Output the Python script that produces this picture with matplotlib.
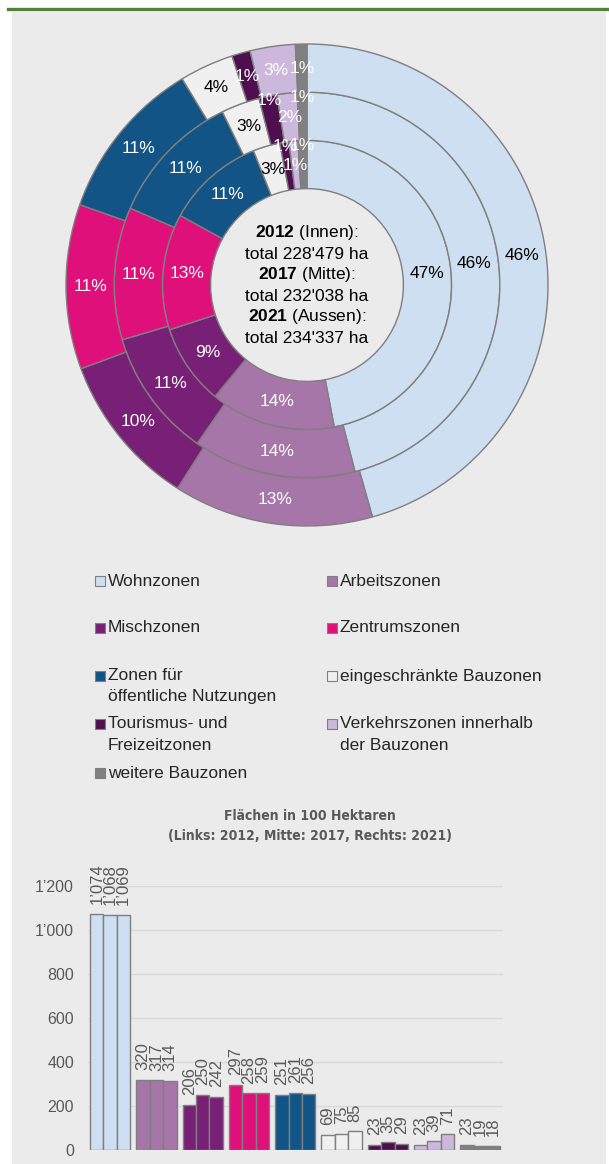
import numpy as np
import matplotlib
matplotlib.use("Agg")
import matplotlib.pyplot as plt
from matplotlib.patches import Rectangle
from matplotlib.lines import Line2D

plt.rcParams['font.family'] = ['Liberation Sans', 'DejaVu Sans']
plt.rcParams['mathtext.fontset'] = 'custom'
plt.rcParams['mathtext.rm'] = 'Liberation Sans'
plt.rcParams['mathtext.bf'] = 'Liberation Sans:bold'

zones = ["Wohnzonen", "Arbeitszonen", "Mischzonen", "Zentrumszonen",
         "Zonen für\nöffentliche Nutzungen", "eingeschränkte Bauzonen",
         "Tourismus- und\nFreizeitzonen", "Verkehrszonen innerhalb\nder Bauzonen",
         "weitere Bauzonen"]
colors = ["#cddff0", "#a676a8", "#772075", "#e0107a", "#115485",
          "#f0f0f0", "#4f0f4f", "#cbb8dc", "#808080"]
label_dark = [True, False, False, False, False, True, False, False, False]

# Flächen in 100 Hektaren
v2012 = [1074, 320, 206, 297, 251, 69, 23, 23, 23]
v2017 = [1068, 317, 250, 258, 261, 75, 35, 39, 19]
v2021 = [1069, 314, 242, 259, 256, 85, 29, 71, 18]

# percent labels as shown in the donut
p2012 = ["47%", "14%", "9%", "13%", "11%", "3%", "1%", "1%", "1%"]
p2017 = ["46%", "14%", "11%", "11%", "11%", "3%", "1%", "2%", "1%"]
p2021 = ["46%", "13%", "10%", "11%", "11%", "4%", "1%", "3%", "1%"]

totals = ["228'479", "232'038", "234'337"]
years = ["2012", "2017", "2021"]
ring_names = ["Innen", "Mitte", "Aussen"]

W, H = 609, 1164
fig = plt.figure(figsize=(W / 100, H / 100), dpi=100)
fig.patch.set_facecolor("white")

# background panel and top rule
fig.patches.append(Rectangle((12 / W, 0), 594 / W, 1 - 12 / H, transform=fig.transFigure,
                             facecolor="#ebebeb", edgecolor="none", zorder=-5))
fig.lines.append(Line2D([8 / W, 1], [1 - 8.8 / H, 1 - 8.8 / H], transform=fig.transFigure,
                        color="#538135", lw=2.4, zorder=-5))

# ---- donut ----
cx, cy, R = 307, 285, 241
ax = fig.add_axes([(cx - R) / W, 1 - (cy + R) / H, 2 * R / W, 2 * R / H])
ax.axis("off")

rings = [(v2012, p2012, 0.6), (v2017, p2017, 0.8), (v2021, p2021, 1.0)]
shift = [0, 0, 0, 0, 0, 0, 0.08, 0, 0.08]
for k, (vals, pcts, rad) in enumerate(rings):
    ax.pie(vals, radius=rad, colors=colors, startangle=90, counterclock=False,
           wedgeprops=dict(width=0.2, edgecolor="#7f7f7f", linewidth=1))
    frac = np.array(vals) / sum(vals)
    cum = np.concatenate([[0], np.cumsum(frac)])
    for i in range(len(vals)):
        th = np.deg2rad(90 - 360 * (cum[i] + cum[i + 1]) / 2)
        r = rad - 0.1 + (shift[i] if k < 2 else 0)
        ax.text(r * np.cos(th), r * np.sin(th), pcts[i], ha="center", va="center",
                fontsize=12.5, color="black" if label_dark[i] else "white")
ax.set_xlim(-1, 1)
ax.set_ylim(-1, 1)

for j in range(3):
    ax.text(0, (285 - (233 + 42 * j)) / R, r"$\bf{" + years[j] + "}$ (" + ring_names[j] + "):",
            ha="center", va="center", fontsize=12.5, color="black")
    ax.text(0, (285 - (254.5 + 42 * j)) / R, "total " + totals[j] + " ha",
            ha="center", va="center", fontsize=12.5, color="black")

# ---- legend ----
row_y = [581, 628, 676, 724, 773]
col_x = [95, 327]
for i, name in enumerate(zones):
    row, col = divmod(i, 2)
    x0, y0 = col_x[col], row_y[row]
    fig.patches.append(Rectangle((x0 / W, 1 - (y0 + 5) / H), 10 / W, 10 / H,
                                 transform=fig.transFigure, facecolor=colors[i],
                                 edgecolor="#7f7f7f", lw=0.8))
    for n, line in enumerate(name.split("\n")):
        fig.text((x0 + 13) / W, 1 - (y0 + 21 * n) / H, line, ha="left", va="center",
                 fontsize=12.5, color="#262626")

# ---- bars ----
bx = fig.add_axes([88 / W, 1 - 1150 / H, 415 / W, 264 / H])
bx.set_facecolor("none")
x = np.arange(len(zones))
bw = 0.29
for off, vals in zip([-bw, 0, bw], [v2012, v2017, v2021]):
    bars = bx.bar(x + off, vals, width=bw, color=colors, edgecolor="#7f7f7f", lw=1, zorder=3)
    for b, v in zip(bars, vals):
        lab = f"{v:,}".replace(",", "’")
        bx.annotate(lab, (b.get_x() + b.get_width() / 2, v), xytext=(0, 7),
                    textcoords="offset points", rotation=90, ha="center", va="bottom",
                    fontsize=12, color="#595959", annotation_clip=False)
bx.set_xlim(-0.48, 8.49)
bx.set_ylim(0, 1200)
bx.set_yticks(range(0, 1201, 200))
bx.set_yticklabels([f"{t:,}".replace(",", "’") for t in range(0, 1201, 200)])
bx.tick_params(axis="y", length=0, pad=10, labelsize=11.5, labelcolor="#595959")
bx.set_xticks([])
for s in bx.spines.values():
    s.set_visible(False)
bx.grid(axis="y", color="#d9d9d9", lw=1, zorder=0)
bx.set_axisbelow(True)

fig.text(310 / W, 1 - 826 / H, "Flächen in 100 Hektaren\n(Links: 2012, Mitte: 2017, Rechts: 2021)",
         ha="center", va="center", fontsize=10, fontweight="bold", color="#595959",
         family="DejaVu Sans", fontstretch="condensed", linespacing=1.55)

fig.savefig("out.png", dpi=100, facecolor=fig.get_facecolor())
